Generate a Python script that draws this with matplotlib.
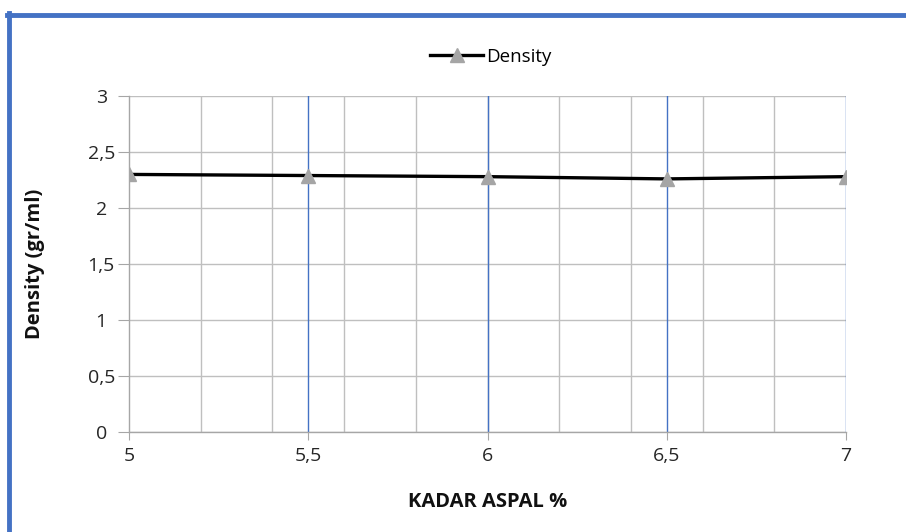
import matplotlib
matplotlib.use("Agg")
import matplotlib.pyplot as plt
from matplotlib.lines import Line2D
from matplotlib.ticker import FuncFormatter, MultipleLocator
import numpy as np

# kadar aspal vs density
kadar = [5, 5.5, 6, 6.5, 7]
density = [2.30, 2.29, 2.28, 2.26, 2.28]
series_name = "Density"
x_label = "KADAR ASPAL %"
y_label = "Density (gr/ml)"

plt.rcParams['font.family'] = ['Open Sans', 'DejaVu Sans']

def comma(v, pos):
    return ("%g" % v).replace('.', ',')

fig = plt.figure(figsize=(9.06, 5.32), dpi=100)
ax = fig.add_axes([0.1424, 0.188, 0.7914, 0.6315])

ax.plot(kadar, density, color='black', lw=2.4, marker='^', markersize=10,
        markerfacecolor='#A5A5A5', markeredgecolor='#A5A5A5', label=series_name, zorder=5)

ax.set_xlim(5, 7)
ax.set_ylim(0, 3)
ax.xaxis.set_major_locator(MultipleLocator(0.5))
ax.xaxis.set_minor_locator(MultipleLocator(0.2))
ax.yaxis.set_major_locator(MultipleLocator(0.5))
ax.xaxis.set_major_formatter(FuncFormatter(comma))
ax.yaxis.set_major_formatter(FuncFormatter(comma))

# gridlines: grey every 0.2, blue at the labelled ticks
for v in np.arange(5.2, 7.0, 0.2):
    ax.axvline(v, color='#BFBFBF', lw=1, zorder=1)
for v in [5.5, 6, 6.5, 7]:
    ax.axvline(v, color='#4472C4', lw=1, zorder=2)
ax.grid(axis='y', color='#BFBFBF', lw=1, zorder=1)

for s in ['top', 'right']:
    ax.spines[s].set_visible(False)
for s in ['left', 'bottom']:
    ax.spines[s].set_color('#A6A6A6')
    ax.spines[s].set_linewidth(1)
ax.tick_params(which='major', length=6, color='#A6A6A6', labelsize=14, labelcolor='#262626')
ax.tick_params(axis='y', length=8, pad=12)
ax.tick_params(axis='x', which='minor', length=0)
ax.tick_params(axis='x', pad=5)
for t in ax.get_yticklabels():
    t.set_horizontalalignment('center')

ax.set_xlabel(x_label, fontsize=14.5, fontweight='bold', labelpad=19, color='#111111')
ax.set_ylabel(y_label, fontsize=14.5, fontweight='bold', color='#111111')
ax.yaxis.set_label_coords(-0.131, 0.5)
ax.yaxis.label.set_verticalalignment('center')

ax.legend(loc='lower center', bbox_to_anchor=(0.505, 1.04), frameon=False, fontsize=13.5,
          handlelength=2.8, handletextpad=0.2)

# blue frame at top and left
fig.add_artist(Line2D([7 / 906, 1], [1 - 15 / 532, 1 - 15 / 532], color='#4472C4', lw=3.5,
                      transform=fig.transFigure))
fig.add_artist(Line2D([9 / 906, 9 / 906], [0, 1 - 13 / 532], color='#4472C4', lw=3.5,
                      transform=fig.transFigure))

fig.savefig("out.png", dpi=100)
